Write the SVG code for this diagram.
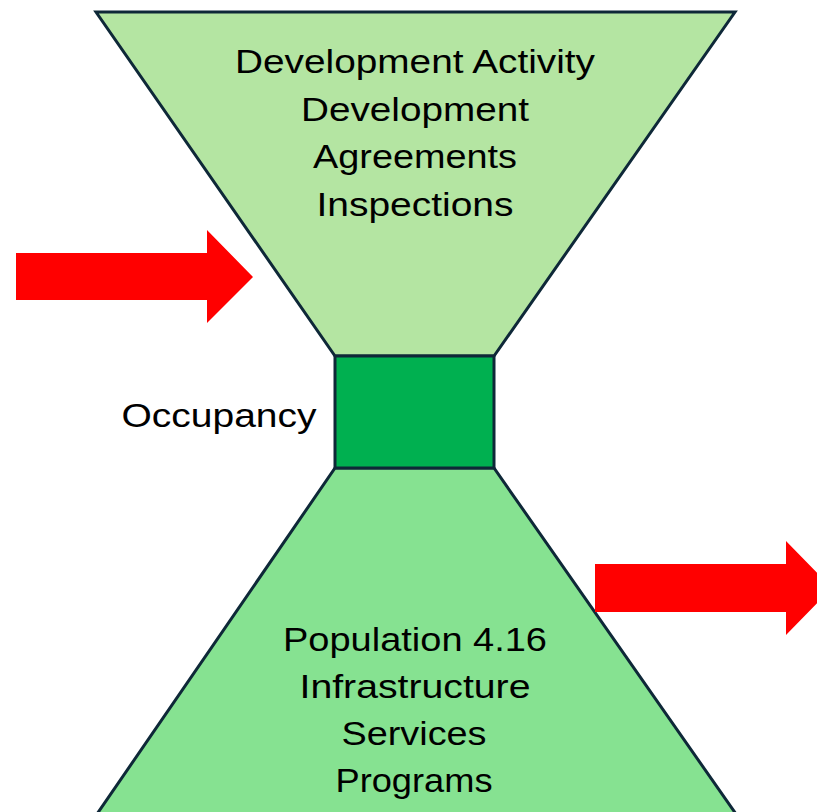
<svg xmlns="http://www.w3.org/2000/svg" width="817" height="812" viewBox="0 0 817 812">
<style>
.shape{stroke:#0e2838;stroke-width:3;stroke-linejoin:miter}
.lbl{font-family:"Liberation Sans",Arial,sans-serif;font-size:34px;fill:#000;text-anchor:middle}
.arrow{fill:#ff0000}
</style>
<rect width="817" height="812" fill="#fff"/>
<g id="top-funnel">
<polygon class="shape" fill="#b4e5a2" points="96,12 735,12 494,356 335,356"/>
<text class="lbl" x="415" y="73" textLength="360" lengthAdjust="spacingAndGlyphs">Development Activity</text>
<text class="lbl" x="415" y="121" textLength="228" lengthAdjust="spacingAndGlyphs">Development</text>
<text class="lbl" x="415" y="168" textLength="204" lengthAdjust="spacingAndGlyphs">Agreements</text>
<text class="lbl" x="415" y="216" textLength="197" lengthAdjust="spacingAndGlyphs">Inspections</text>
</g>
<g id="bottom-funnel">
<polygon class="shape" fill="#86e291" points="335,468 494,468 736,814 97,814"/>
<text class="lbl" x="415" y="651" textLength="264" lengthAdjust="spacingAndGlyphs">Population 4.16</text>
<text class="lbl" x="415" y="698" textLength="231" lengthAdjust="spacingAndGlyphs">Infrastructure</text>
<text class="lbl" x="414" y="745" textLength="145" lengthAdjust="spacingAndGlyphs">Services</text>
<text class="lbl" x="414" y="792" textLength="157" lengthAdjust="spacingAndGlyphs">Programs</text>
</g>
<g id="occupancy">
<rect class="shape" fill="#00b050" x="335" y="356" width="159" height="112"/>
<text class="lbl" x="219" y="427" textLength="195" lengthAdjust="spacingAndGlyphs">Occupancy</text>
</g>
<g id="connectors">
<polygon id="arrow-in" class="arrow" points="16,253 207,253 207,230 253,277 207,323 207,300 16,300"/>
<polygon id="arrow-out" class="arrow" points="595,564 786,564 786,541 832,588 786,635 786,612 595,612"/>
</g>
</svg>
